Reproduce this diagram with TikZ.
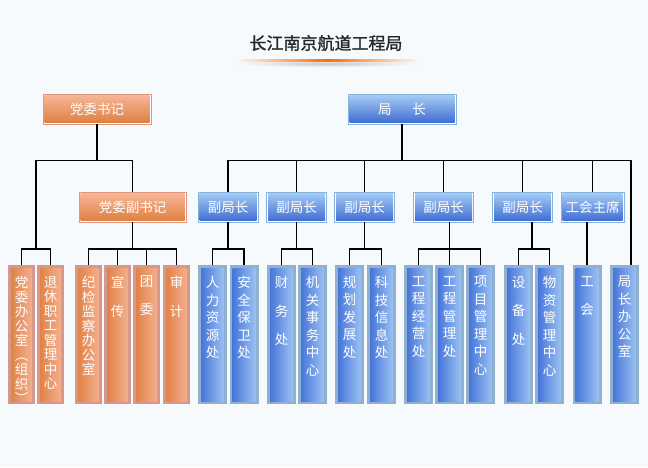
\documentclass[tikz,border=0pt]{standalone}
\usepackage{fontspec}
\newfontfamily\cjk{Noto Sans CJK SC}
\newfontfamily\cjkt[FakeBold=1.2]{Noto Sans CJK SC}
\usetikzlibrary{calc}
\definecolor{bgc}{RGB}{246,250,252}
\definecolor{oline}{RGB}{222,150,125}
\definecolor{otop}{RGB}{248,184,155}
\definecolor{obot}{RGB}{221,125,62}
\definecolor{bline}{RGB}{135,180,220}
\definecolor{btop}{RGB}{168,206,246}
\definecolor{bbot}{RGB}{60,106,208}
\definecolor{oband}{RGB}{214,152,140}
\definecolor{oleft}{RGB}{223,124,62}
\definecolor{oright}{RGB}{246,182,152}
\definecolor{bband}{RGB}{143,176,206}
\definecolor{bleft}{RGB}{60,108,214}
\definecolor{bright}{RGB}{166,203,245}
\tikzset{
  gbox/.style n args={3}{draw=#1,fill=white,line width=0.8pt,minimum height=30pt,inner sep=0pt,text=white,font=\cjk\fontsize{13.5}{15}\selectfont,
    path picture={\shade[top color=#2,bottom color=#3]([shift={(1.5pt,-1.5pt)}]path picture bounding box.north west) rectangle ([shift={(-1.5pt,1.5pt)}]path picture bounding box.south east);}},
  ob/.style={gbox={oline}{otop}{obot}},
  bx/.style={gbox={bline}{btop}{bbot}},
  col/.style n args={3}{fill=#1,minimum height=139pt,anchor=north,inner sep=0pt,
    path picture={\shade[left color=#2,right color=#3]([shift={(3pt,-3pt)}]path picture bounding box.north west) rectangle ([shift={(-3pt,3pt)}]path picture bounding box.south east);}},
  oc/.style={col={oband}{oleft}{oright},minimum width=27pt},
  bc/.style={col={bband}{bleft}{bright},minimum width=29pt},
  vt/.style={anchor=north,yshift=-11pt,inner sep=0pt,text=white,align=center,font=\cjk\fontsize{13.5}{17.5}\selectfont},
  ovt/.style={vt,font=\cjk\fontsize{13.5}{14.5}\selectfont},
  ln/.style={line width=1.3pt}
}
\begin{document}
\begin{tikzpicture}[x=1pt,y=-1pt]
\fill[bgc](0,0)rectangle(648,467);
\useasboundingbox(0,0)rectangle(648,467);
\node[font=\cjkt\fontsize{17}{20}\selectfont,text=black!85](t)at(326,43){长江南京航道工程局};
\shade[inner color=black!22,outer color=bgc](327.5,63.5)ellipse(92 and 3.5);
\shade[left color=bgc,right color=bgc,middle color=orange!85!red](235,59.5)rectangle(420,61.2);
\node[ob,minimum width=108pt](a)at(97,109){党委书记};
\node[bx,minimum width=108pt](b)at(402,109){局\hspace{21pt}长};
\node[ob,minimum width=107pt](c)at(132.5,207){党委副书记};
\node[bx,minimum width=60pt](d1)at(228,207){副局长};
\node[bx,minimum width=60pt](d2)at(296.5,207){副局长};
\node[bx,minimum width=60pt](d3)at(364.5,207){副局长};
\node[bx,minimum width=60pt](d4)at(443.5,207){副局长};
\node[bx,minimum width=60pt](d5)at(522.5,207){副局长};
\node[bx,minimum width=63pt](d6)at(592.5,207){工会主席};
\node[oc,label={[ovt]north:{党\\委\\办\\公\\室\\︵\\组\\织\\︶}}](o1)at(21.5,265){};
\node[oc,label={[ovt]north:{退\\休\\职\\工\\管\\理\\中\\心}}](o2)at(50.5,265){};
\node[oc,label={[ovt]north:{纪\\检\\监\\察\\办\\公\\室}}](o3)at(88.5,265){};
\node[oc,label={[ovt]north:{宣\\[14pt]传}}](o4)at(117.5,265){};
\node[oc,label={[ovt]north:{团\\[13pt]委}}](o5)at(146.5,265){};
\node[oc,label={[ovt]north:{审\\[14pt]计}}](o6)at(176.5,265){};
\node[bc,label={[vt]north:{人\\力\\资\\源\\处}}](p1)at(212.5,265){};
\node[bc,label={[vt]north:{安\\全\\保\\卫\\处}}](p2)at(244,265){};
\node[bc,label={[vt]north:{财\\[11pt]务\\[11pt]处}}](p3)at(281.5,265){};
\node[bc,label={[vt]north:{机\\关\\事\\务\\中\\心}}](p4)at(312.5,265){};
\node[bc,label={[vt]north:{规\\划\\发\\展\\处}}](p5)at(349.5,265){};
\node[bc,label={[vt]north:{科\\技\\信\\息\\处}}](p6)at(381.5,265){};
\node[bc,label={[vt]north:{工\\程\\经\\营\\处}}](p7)at(418.5,265){};
\node[bc,label={[vt]north:{工\\程\\管\\理\\处}}](p8)at(449.5,265){};
\node[bc,label={[vt]north:{项\\目\\管\\理\\中\\心}}](p9)at(480.5,265){};
\node[bc,label={[vt]north:{设\\[11pt]备\\[11pt]处}}](p10)at(518.5,265){};
\node[bc,label={[vt]north:{物\\资\\管\\理\\中\\心}}](p11)at(549.5,265){};
\node[bc,label={[vt]north:{工\\[11pt]会}}](p12)at(587,265){};
\node[bc,label={[vt]north:{局\\长\\办\\公\\室}}](p13)at(624.5,265){};
\coordinate(k1)at(36,249);
\coordinate(k2)at(532,249);
\draw[ln](a.south)--++(0,36)coordinate(k0)-|(c.north);
\draw[ln](k0)-|(k1);
\draw[ln](o1.north)|-(k1)-|(o2.north);
\draw[ln](c.south)--++(0,27);
\draw[ln](o3.north)--++(0,-16)-|(o6.north);
\draw[ln](o4.north)--++(0,-16);
\draw[ln](o5.north)--++(0,-16);
\draw[ln](b.south)--++(0,36)coordinate(k3);
\draw[ln](d1.north)|-(k3)-|([xshift=6.5pt]p13.north);
\foreach \n in {d2,d3,d4,d5,d6}\draw[ln](\n.north)--(\n.north|-k3);
\draw[ln](d1.south)--++(0,27);
\draw[ln](p1.north)--++(0,-16)-|(p2.north);
\draw[ln](d2.south)--++(0,27);
\draw[ln](p3.north)--++(0,-16)-|(p4.north);
\draw[ln](d3.south)--++(0,27);
\draw[ln](p5.north)--++(0,-16)-|(p6.north);
\draw[ln](d4.south-|p8.north)--(p8.north);
\draw[ln](p7.north)--++(0,-16)-|(p9.north);
\draw[ln](d5.south-|k2)--(k2);
\draw[ln](p10.north)|-(k2)-|(p11.north);
\draw[ln](d6.south-|p12.north)--(p12.north);
\end{tikzpicture}
\end{document}
